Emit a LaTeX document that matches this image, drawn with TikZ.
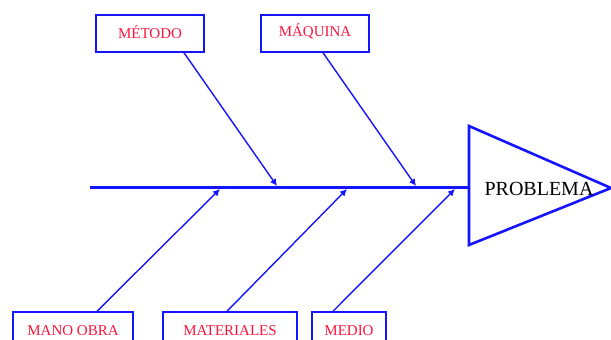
\documentclass[tikz,border=0pt]{standalone}
\usepackage{fontspec}
\setmainfont{Liberation Serif}
\usetikzlibrary{arrows.meta,calc}
\definecolor{causeblue}{RGB}{20,20,255}
\definecolor{causered}{RGB}{255,20,60}
\begin{document}
\begin{tikzpicture}[x=1pt,y=-1pt,
  causebox/.style={draw=causeblue, line width=1.5pt, text=causered,
    font=\fontsize{15}{15}\selectfont, inner sep=0pt,
    text height=10.5pt, text depth=0pt, minimum height=37pt},
  bone/.style={draw=causeblue, line width=1.4pt,
    -{Latex[length=7pt,width=7pt]}},
  spine/.style={draw=causeblue, line width=3.8pt},
  head/.style={draw=causeblue, line width=2.6pt, line join=miter}]
\useasboundingbox (0,0) rectangle (611,340);

% cause boxes
\node[causebox, minimum width=108pt] (metodo)  at (150,33.5)  {MÉTODO};
\node[causebox, minimum width=108pt] (maquina) at (315,33.5)  {\raisebox{2pt}{MÁQUINA}};
\node[causebox, minimum width=120pt] (mano)    at (73,330.5)  {MANO OBRA};
\node[causebox, minimum width=134pt] (mater)   at (230,330.5) {MATERIALES};
\node[causebox, minimum width=74pt]  (medio)   at (349,330.5) {MEDIO};

% head of the fish
\coordinate (htop) at (469,126);
\coordinate (htip) at (611,188);
\coordinate (hbot) at (469,245);
\draw[head] (htop) -- (htip) -- (hbot) -- cycle;
\node[font=\fontsize{20}{20}\selectfont] (problema) at (539,189) {PROBLEMA};

% backbone
\coordinate (tail) at (90,187.5);
\coordinate (neck) at (469,187.5);
\draw[spine] (tail) -- (neck);

% bone ends on the backbone
\coordinate (e1) at (277,186);
\coordinate (e2) at (416,186);
\coordinate (e3) at (220,189);
\coordinate (e4) at (347,189);
\coordinate (e5) at (455,189);

\draw[bone] ([xshift=34pt]metodo.south)  -- (e1);
\draw[bone] ([xshift=8pt]maquina.south)  -- (e2);
\draw[bone] ([xshift=24pt]mano.north)    -- (e3);
\draw[bone] ([xshift=-3pt]mater.north)   -- (e4);
\draw[bone] ([xshift=-16pt]medio.north)  -- (e5);
\end{tikzpicture}
\end{document}
